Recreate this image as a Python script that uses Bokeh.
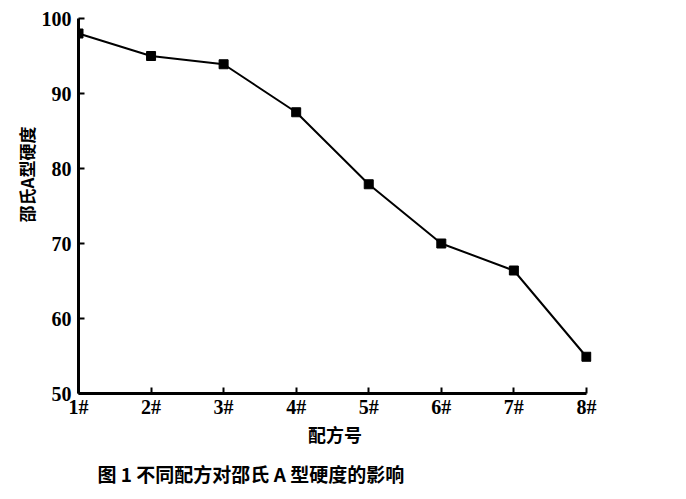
from bokeh.plotting import figure
from bokeh.models import FixedTicker, Title, Range1d
from bokeh.embed import file_html
from bokeh.resources import INLINE

formula = [1, 2, 3, 4, 5, 6, 7, 8]
hardness = [98.0, 95.0, 93.9, 87.5, 77.9, 70.0, 66.4, 54.9]
x_labels = ["1#", "2#", "3#", "4#", "5#", "6#", "7#", "8#"]
y_ticks = [50, 60, 70, 80, 90, 100]

p = figure(width=670, height=494, output_backend="svg", toolbar_location=None,
           x_range=Range1d(1, 8.07), y_range=Range1d(50, 100),
           min_border_left=78, min_border_right=79, min_border_top=18, min_border_bottom=10)
p.outline_line_color = None
p.grid.visible = False
p.background_fill_color = "white"

p.line(formula, hardness, line_color="black", line_width=2)
p.scatter(formula, hardness, marker="square", size=9, fill_color="black", line_color="black")

for ax in (p.xaxis, p.yaxis):
    ax.axis_line_width = 3
    ax.axis_line_color = "black"
    ax.major_tick_in = 6
    ax.major_tick_out = 0
    ax.major_tick_line_width = 2
    ax.minor_tick_line_color = None
    ax.major_label_text_font = "Liberation Serif"
    ax.major_label_text_font_size = "20px"
    ax.major_label_text_font_style = "bold"
    ax.major_label_text_color = "black"
    ax.axis_label_text_font = "Noto Sans CJK SC"
    ax.axis_label_text_font_style = "bold"
    ax.axis_label_text_font_size = "18px"
    ax.axis_label_text_color = "black"

p.xaxis.ticker = FixedTicker(ticks=formula)
p.xaxis.major_label_overrides = {f: l for f, l in zip(formula, x_labels)}
p.xaxis.bounds = (1, 8)
p.yaxis.ticker = FixedTicker(ticks=y_ticks)
p.xaxis.axis_label = "配方号"
p.xaxis.axis_label_standoff = 0
p.xaxis.major_label_standoff = 2
p.yaxis.major_label_standoff = 7

ylab = Title(text="邵氏A型硬度", align="left", offset=171,
             text_font="Noto Sans CJK SC", text_font_size="17px", text_font_style="bold",
             text_color="black", standoff=0)
p.add_layout(ylab, "left")

cap = Title(text="图 1   不同配方对邵氏 A 型硬度的影响", align="left", offset=19,
            text_font="Noto Sans CJK SC", text_font_size="19px", text_font_style="bold",
            text_color="black", standoff=16)
p.add_layout(cap, "below")

open("out.html", "w").write(file_html(p, INLINE))
